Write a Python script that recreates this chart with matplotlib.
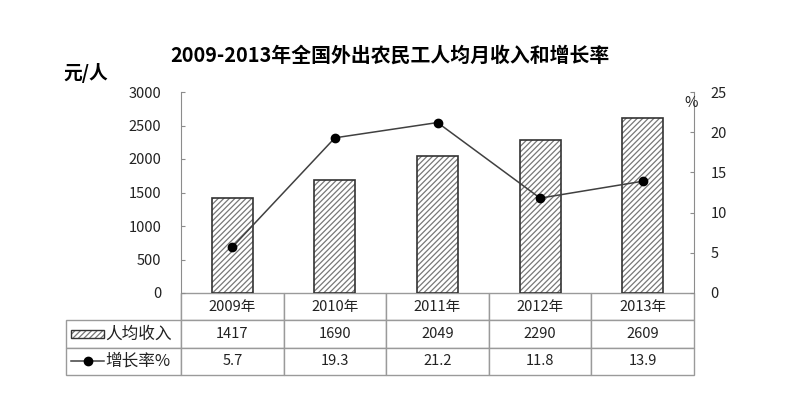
import matplotlib
matplotlib.use('Agg')
import matplotlib.pyplot as plt
from matplotlib.patches import Rectangle
from matplotlib.lines import Line2D

plt.rcParams['font.family'] = ['Noto Sans CJK SC', 'DejaVu Sans']
plt.rcParams['hatch.linewidth'] = 0.9

# -----------------------------------------------------------------------------
# 数据
# -----------------------------------------------------------------------------
years = ['2009年', '2010年', '2011年', '2012年', '2013年']
income = [1417, 1690, 2049, 2290, 2609]
growth = [5.7, 19.3, 21.2, 11.8, 13.9]
left_ticks = [0, 500, 1000, 1500, 2000, 2500, 3000]
right_ticks = [0, 5, 10, 15, 20, 25]

W, H = 800, 398
fig = plt.figure(figsize=(8, 3.98), dpi=100)
# 绘图区: x 181..693, y 92..293 (像素)
ax_l, ax_r, ax_t, ax_b = 181, 694, 92, 293
ax = fig.add_axes([ax_l / W, 1 - ax_b / H, (ax_r - ax_l) / W, (ax_b - ax_t) / H])
ax2 = ax.twinx()

axis_c = '#8c8c8c'
hatch_c = '#777777'
x = list(range(len(years)))

# 柱状图（先画斜线填充，再画边框）
ax.bar(x, income, width=0.4, facecolor='white', edgecolor=hatch_c,
       hatch='//////', linewidth=0, zorder=2)
ax.bar(x, income, width=0.4, facecolor='none', edgecolor='#333333',
       linewidth=1.2, zorder=3)
ax.set_xlim(-0.5, len(years) - 0.5)
ax.set_ylim(0, 3000)
ax.set_yticks(left_ticks)
ax.set_xticks([])

# 增长率折线
ax2.plot(x, growth, color='#404040', linewidth=1.1, marker='o',
         markersize=6, markerfacecolor='black', markeredgecolor='black', zorder=4)
ax2.set_ylim(0, 25)
ax2.set_yticks(right_ticks)

for a in (ax, ax2):
    for s in a.spines.values():
        s.set_visible(False)
ax.spines['left'].set_visible(True)
ax.spines['left'].set_color(axis_c)
ax2.spines['right'].set_visible(True)
ax2.spines['right'].set_color(axis_c)
ax.tick_params(axis='y', direction='in', length=3, color=axis_c,
               labelsize=10.5, pad=14, labelcolor='#222222')
ax2.tick_params(axis='y', direction='in', length=3, color=axis_c,
                labelsize=10.5, pad=12, labelcolor='#222222')

# -----------------------------------------------------------------------------
# 数据表
# -----------------------------------------------------------------------------
tbl_left, tbl_bottom = 66, 375
row_label_w = ax_l - tbl_left
col_w = (ax_r - ax_l) / len(years)
ax_w, ax_h = ax_r - ax_l, ax_b - ax_t

cell_text = [[''] + years,
             [''] + [str(v) for v in income],
             [''] + [str(v) for v in growth]]
tbl = ax.table(cellText=cell_text,
               colWidths=[row_label_w] + [col_w] * len(years),
               cellLoc='center',
               bbox=[-row_label_w / ax_w, -(tbl_bottom - ax_b) / ax_h,
                     (ax_r - tbl_left) / ax_w, (tbl_bottom - ax_b) / ax_h])
tbl.auto_set_font_size(False)
for (r, c), cell in tbl.get_celld().items():
    cell.set_edgecolor('#9a9a9a')
    cell.set_linewidth(1.0)
    cell.get_text().set_fontsize(10.5)
    cell.get_text().set_color('#222222')
    if r == 0 and c == 0:
        cell.visible_edges = 'R'

# 行标签（带图例符号）
def fx(px):
    return (px - ax_l) / ax_w

def fy(py):
    return (ax_b - py) / ax_h

row_y = [334, 361]
ax.add_patch(Rectangle((fx(71), fy(row_y[0] + 4)), fx(104) - fx(71),
                       fy(row_y[0] - 4) - fy(row_y[0] + 4),
                       transform=ax.transAxes, facecolor='white',
                       edgecolor=hatch_c, hatch='//////', linewidth=0,
                       clip_on=False))
ax.add_patch(Rectangle((fx(71), fy(row_y[0] + 4)), fx(104) - fx(71),
                       fy(row_y[0] - 4) - fy(row_y[0] + 4),
                       transform=ax.transAxes, facecolor='none',
                       edgecolor='#333333', linewidth=1.0, clip_on=False))
ax.add_line(Line2D([fx(71), fx(104)], [fy(row_y[1]), fy(row_y[1])],
                   transform=ax.transAxes, color='#404040', linewidth=1.1,
                   clip_on=False))
ax.add_line(Line2D([fx(87.5)], [fy(row_y[1])], transform=ax.transAxes,
                   marker='o', markersize=6, color='black', clip_on=False))
ax.text(fx(105), fy(row_y[0]), '人均收入', transform=ax.transAxes,
        ha='left', va='center', fontsize=12, color='#222222')
ax.text(fx(105), fy(row_y[1]), '增长率%', transform=ax.transAxes,
        ha='left', va='center', fontsize=12, color='#222222')

# 标题与单位
fig.text(390 / W, 1 - 55 / H, '2009-2013年全国外出农民工人均月收入和增长率',
         ha='center', va='center', fontsize=14.3, fontweight='bold')
fig.text(86 / W, 1 - 73 / H, '元/人', ha='center', va='center',
         fontsize=13.5, fontweight='bold')
fig.text(691 / W, 1 - 103 / H, '%', ha='center', va='center',
         fontsize=10.5, color='#222222')

fig.savefig('out.png', dpi=100, facecolor='white')
